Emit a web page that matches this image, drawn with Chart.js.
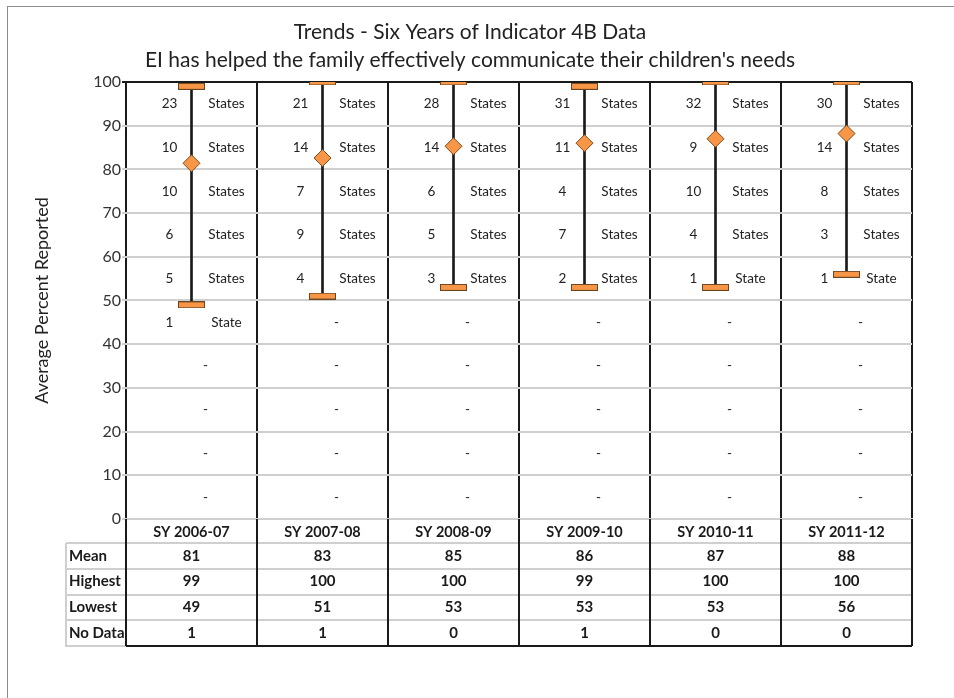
<!DOCTYPE html>
<html>
<head>
<meta charset="utf-8">
<script src="https://cdn.jsdelivr.net/npm/chart.js@4"></script>
<style>
    body { margin: 0; background: #fff; }
    #wrap { position: relative; width: 954px; height: 698px; overflow: hidden; }
    #frame { position: absolute; left: 7px; top: 6px; width: 1000px; height: 1000px;
             border-left: 1.5px solid #8c8c8c; border-top: 1.5px solid #8c8c8c; }
    canvas { position: absolute; left: 0; top: 0; }
</style>
</head>
<body>
<div id="wrap">
    <div id="frame"></div>
    <canvas id="trendChart" width="954" height="698"></canvas>
</div>
<script>
const categories = ['SY 2006-07', 'SY 2007-08', 'SY 2008-09', 'SY 2009-10', 'SY 2010-11', 'SY 2011-12'];

// plotted values
const meanPoints = [81.4, 82.6, 85.3, 86.0, 87.0, 88.2];
const highest = [99, 100, 100, 99, 100, 100];
const lowest = [49, 51, 53, 53, 53, 56];

// table rows
const meanRow = [81, 83, 85, 86, 87, 88];
const highestRow = [99, 100, 100, 99, 100, 100];
const lowestRow = [49, 51, 53, 53, 53, 56];
const noDataRow = [1, 1, 0, 1, 0, 0];

// number of states in each 10-point band
const band90 = [23, 21, 28, 31, 32, 30];
const band80 = [10, 14, 14, 11, 9, 14];
const band70 = [10, 7, 6, 4, 10, 8];
const band60 = [6, 9, 5, 7, 4, 3];
const band50 = [5, 4, 3, 2, 1, 1];
const band40 = [1, 0, 0, 0, 0, 0];
const band30 = [0, 0, 0, 0, 0, 0];
const band20 = [0, 0, 0, 0, 0, 0];
const band10 = [0, 0, 0, 0, 0, 0];
const band0 = [0, 0, 0, 0, 0, 0];
const bandStarts = [90, 80, 70, 60, 50, 40, 30, 20, 10, 0];
const bandCounts = [band90, band80, band70, band60, band50, band40, band30, band20, band10, band0];

const yTicks = [0, 10, 20, 30, 40, 50, 60, 70, 80, 90, 100];

const FONT = 'Lato, "Open Sans", sans-serif';
const ORANGE = '#f79646';

// cap marker: a flat orange bar
const cap = document.createElement('canvas');
cap.width = 27;
cap.height = 7;
(function () {
    const c = cap.getContext('2d');
    c.fillStyle = ORANGE;
    c.fillRect(0.5, 0.5, 26, 6);
    c.strokeStyle = '#6b4420';
    c.lineWidth = 1;
    c.strokeRect(0.5, 0.5, 26, 6);
})();

const bandText = {
    id: 'bandText',
    beforeDatasetsDraw(chart) {
        const ctx = chart.ctx;
        const xs = chart.scales.x, ys = chart.scales.y;
        ctx.save();
        ctx.font = '13.5px ' + FONT;
        ctx.fillStyle = '#222';
        ctx.textAlign = 'center';
        ctx.textBaseline = 'middle';
        bandStarts.forEach(function (start, b) {
            const y = ys.getPixelForValue(start + 5);
            bandCounts[b].forEach(function (n, i) {
                const cx = xs.getPixelForValue(i);
                if (n === 0) {
                    ctx.fillText('-', cx + 14, y);
                } else {
                    ctx.fillText(String(n), cx - 22, y);
                    ctx.fillText(n === 1 ? 'State' : 'States', cx + 35, y);
                }
            });
        });
        ctx.restore();
    }
};

const dataTable = {
    id: 'dataTable',
    afterDraw(chart) {
        const ctx = chart.ctx;
        const xs = chart.scales.x;
        const area = chart.chartArea;
        const rowH = 25.75;
        const top = xs.bottom;
        const labelLeft = area.left - 60;
        const rows = [['Mean', meanRow], ['Highest', highestRow], ['Lowest', lowestRow], ['No Data', noDataRow]];
        const bottom = top + rowH * rows.length;
        const half = (xs.getPixelForValue(1) - xs.getPixelForValue(0)) / 2;

        ctx.save();
        // gray row lines
        ctx.strokeStyle = '#cfcfcf';
        ctx.lineWidth = 2;
        for (let r = 0; r < rows.length; r++) {
            const y = Math.round(top + rowH * r);
            ctx.beginPath();
            ctx.moveTo(labelLeft, y);
            ctx.lineTo(area.right, y);
            ctx.stroke();
        }
        ctx.beginPath();
        ctx.moveTo(labelLeft, top);
        ctx.lineTo(labelLeft, bottom);
        ctx.lineTo(area.left, bottom);
        ctx.stroke();

        // black column lines and bottom edge
        ctx.strokeStyle = '#1a1a1a';
        ctx.lineWidth = 2;
        for (let i = 0; i <= categories.length; i++) {
            const x = xs.getPixelForValue(i) - half;
            ctx.beginPath();
            ctx.moveTo(x, area.bottom);
            ctx.lineTo(x, bottom);
            ctx.stroke();
        }
        ctx.beginPath();
        ctx.moveTo(area.left, bottom);
        ctx.lineTo(area.right, bottom);
        ctx.stroke();

        // text
        ctx.font = 'bold 15px ' + FONT;
        ctx.fillStyle = '#1a1a1a';
        ctx.textBaseline = 'middle';
        rows.forEach(function (row, r) {
            const y = top + rowH * r + rowH / 2;
            ctx.textAlign = 'left';
            ctx.fillText(row[0], labelLeft + 3, y);
            ctx.textAlign = 'center';
            row[1].forEach(function (v, i) {
                ctx.fillText(String(v), xs.getPixelForValue(i), y);
            });
        });
        ctx.restore();
    }
};

const ctx = document.getElementById('trendChart').getContext('2d');
const trendChart = new Chart(ctx, {
    type: 'bar',
    data: {
        labels: categories,
        datasets: [
            {
                type: 'line',
                label: 'Mean',
                data: meanPoints,
                showLine: false,
                pointStyle: 'rectRot',
                pointRadius: 8.5,
                pointBackgroundColor: ORANGE,
                pointBorderColor: '#7a4a1e',
                pointBorderWidth: 1,
                order: 0
            },
            {
                type: 'line',
                label: 'Highest',
                data: highest,
                showLine: false,
                pointStyle: cap,
                order: 1
            },
            {
                type: 'line',
                label: 'Lowest',
                data: lowest,
                showLine: false,
                pointStyle: cap,
                order: 1
            },
            {
                type: 'bar',
                label: 'Range',
                data: lowest.map(function (lo, i) { return [lo, highest[i]]; }),
                backgroundColor: '#1a1a1a',
                barThickness: 2,
                order: 2
            }
        ]
    },
    options: {
        responsive: false,
        animation: false,
        layout: { padding: { top: 4, left: 28, right: 42, bottom: 155 } },
        plugins: {
            legend: { display: false },
            tooltip: { enabled: false },
            title: {
                display: true,
                text: ['Trends - Six Years of Indicator 4B Data',
                       "EI has helped the family effectively communicate their children's needs"],
                color: '#222',
                font: { family: FONT, size: 21, weight: 'normal', lineHeight: 1.333 },
                padding: { top: 14, bottom: 8 }
            }
        },
        scales: {
            x: {
                offset: true,
                grid: { offset: true, color: '#1a1a1a', lineWidth: 2, drawTicks: false },
                border: { display: true, color: '#cfcfcf', width: 2 },
                ticks: { color: '#1a1a1a', font: { family: FONT, size: 14.5, weight: 'bold' }, padding: 5 },
                afterFit(scale) { scale.height = 24; }
            },
            y: {
                min: 0,
                max: 100,
                afterBuildTicks(scale) { scale.ticks = yTicks.map(function (v) { return { value: v }; }); },
                grid: {
                    color(c) { return c.tick && c.tick.value === 100 ? '#1a1a1a' : '#cfcfcf'; },
                    lineWidth: 2,
                    tickLength: 4
                },
                border: { display: false },
                ticks: { color: '#333', font: { family: FONT, size: 16 }, padding: 1 },
                title: {
                    display: true,
                    text: 'Average Percent Reported',
                    color: '#222',
                    font: { family: FONT, size: 18 },
                    padding: { top: 3, bottom: 0 }
                },
                afterFit(scale) { scale.width = 98; }
            }
        }
    },
    plugins: [bandText, dataTable]
});
</script>
</body>
</html>
